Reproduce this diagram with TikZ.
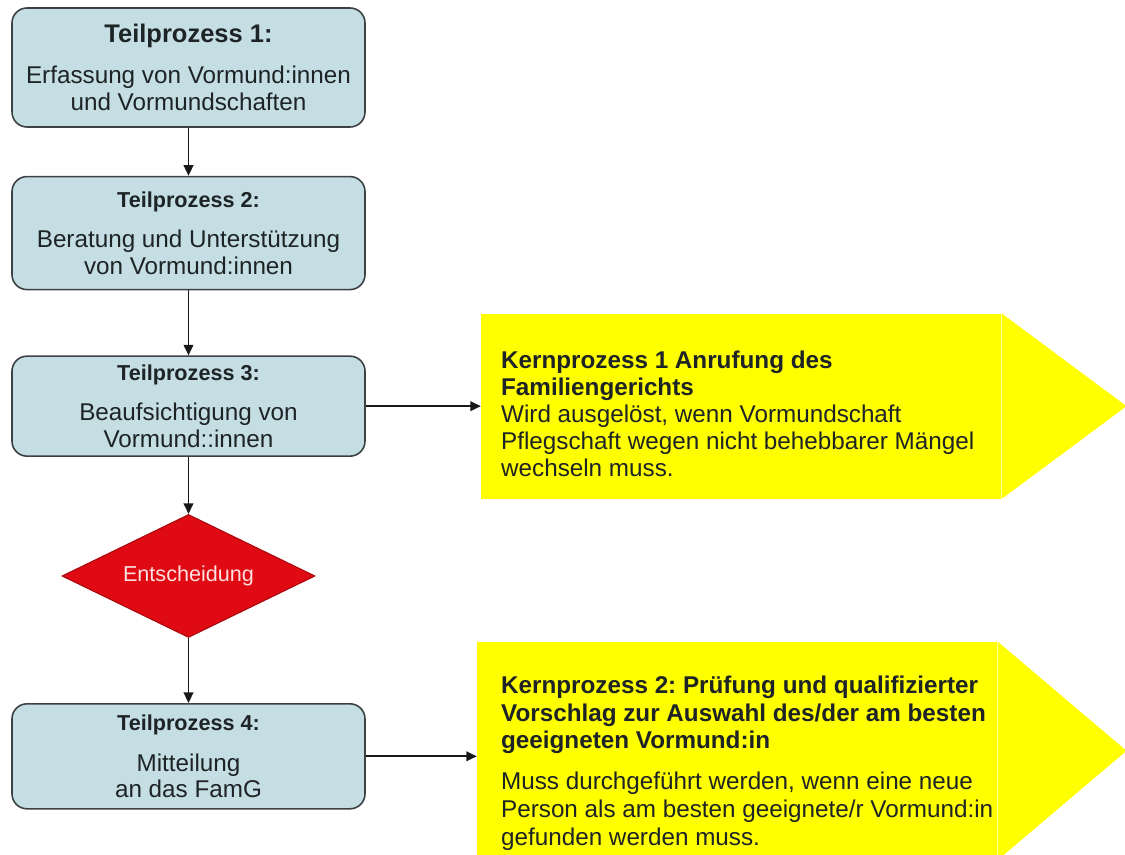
\documentclass[tikz,border=0pt]{standalone}
\usepackage{fontspec}
\setmainfont{Liberation Sans}
\usetikzlibrary{positioning, arrows.meta, shapes.geometric}
\frenchspacing

\definecolor{teilblau}{RGB}{196,222,228}
\definecolor{rahmen}{RGB}{60,65,68}
\definecolor{entrot}{RGB}{224,10,18}
\definecolor{kerngelb}{RGB}{255,255,0}
\definecolor{schrift}{RGB}{30,35,38}

\newcommand{\teiltitel}[2]{{\bfseries\fontsize{#1}{15}\selectfont #2}}

\begin{document}
\begin{tikzpicture}[
    node distance=1.3cm and 2.3cm,
    every node/.style={text=schrift},
    teil/.style={draw=rahmen, line width=0.9pt, fill=teilblau, rounded corners=0.3cm, minimum width=7.06cm, minimum height=#1, align=center, inner sep=0pt, font=\fontsize{13.8}{15.2}\selectfont},
    entsch/.style={diamond, aspect=2, draw=entrot!75!black, line width=0.6pt, fill=entrot, minimum width=5.06cm, minimum height=2.46cm, inner sep=0pt, text=red!12, font=\fontsize{12.3}{14}\selectfont},
    kern/.style={fill=kerngelb, minimum width=10.4cm, minimum height=#1, inner sep=0pt},
    kerntext/.style={anchor=west, align=left, inner sep=0pt, font=\fontsize{13.8}{#1}\selectfont},
    arrow/.style={-{Triangle[length=6pt, width=5.5pt]}, line width=0.95pt, draw=black!90},
  ]

  \useasboundingbox (0,0) rectangle (22.5,-17.1);

  % ---- Teilprozesse ----
  \node[teil=2.38cm] (tp1) at (3.77,-1.35) {\teiltitel{14.5}{Teilprozess 1:}\\[8pt]Erfassung von Vormund:innen\\und Vormundschaften};
  \node[teil=2.26cm, below=0.96cm of tp1] (tp2) {\teiltitel{12.3}{Teilprozess 2:}\\[8pt]Beratung und Unterstützung\\von Vormund:innen};
  \node[teil=2.0cm, below=1.3cm of tp2] (tp3) {\teiltitel{12.3}{Teilprozess 3:}\\[8pt]Beaufsichtigung von\\Vormund::innen};

  % ---- Entscheidung ----
  \node[entsch, below=1.14cm of tp3] (ent) {Entscheidung};

  \node[teil=2.1cm, below=1.3cm of ent] (tp4) {\teiltitel{12.3}{Teilprozess 4:}\\[8pt]Mitteilung\\an das FamG};

  % ---- Kernprozesse ----
  \node[kern=3.7cm, right=2.3cm of tp3] (kp1) {};
  \fill[kerngelb] (kp1.north east) -- ([xshift=2.5cm]kp1.east) -- (kp1.south east) -- cycle;
  \node[kerntext=15.3pt] (kt1) at ([xshift=0.4cm, yshift=-0.15cm]kp1.west) {\textbf{Kernprozess 1 Anrufung des}\\\textbf{Familiengerichts}\\Wird ausgelöst, wenn Vormundschaft\\Pflegschaft wegen nicht behebbarer Mängel\\wechseln muss.};

  \node[kern=4.36cm, right=2.22cm of tp4, yshift=0.11cm] (kp2) {};
  \fill[kerngelb] (kp2.north east) -- ([xshift=2.58cm]kp2.east) -- (kp2.south east) -- cycle;
  \node[kerntext=15.9pt] (kt2) at ([xshift=0.48cm, yshift=-0.24cm]kp2.west) {\textbf{Kernprozess 2: Prüfung und qualifizierter}\\\textbf{Vorschlag zur Auswahl des/der am besten}\\\textbf{geeigneten Vormund:in}\\[7pt]Muss durchgeführt werden, wenn eine neue\\Person als am besten geeignete/r Vormund:in\\gefunden werden muss.};

  % ---- Arrows ----
  \draw[arrow] (tp1) -- (tp2);
  \draw[arrow] (tp2) -- (tp3);
  \draw[arrow] (tp3) -- (ent);
  \draw[arrow] (ent) -- (tp4);
  \draw[arrow] (tp3.east) -- (kp1.west);
  \draw[arrow] (tp4.east) -- (tp4.east -| kp2.west);

\end{tikzpicture}
\end{document}
